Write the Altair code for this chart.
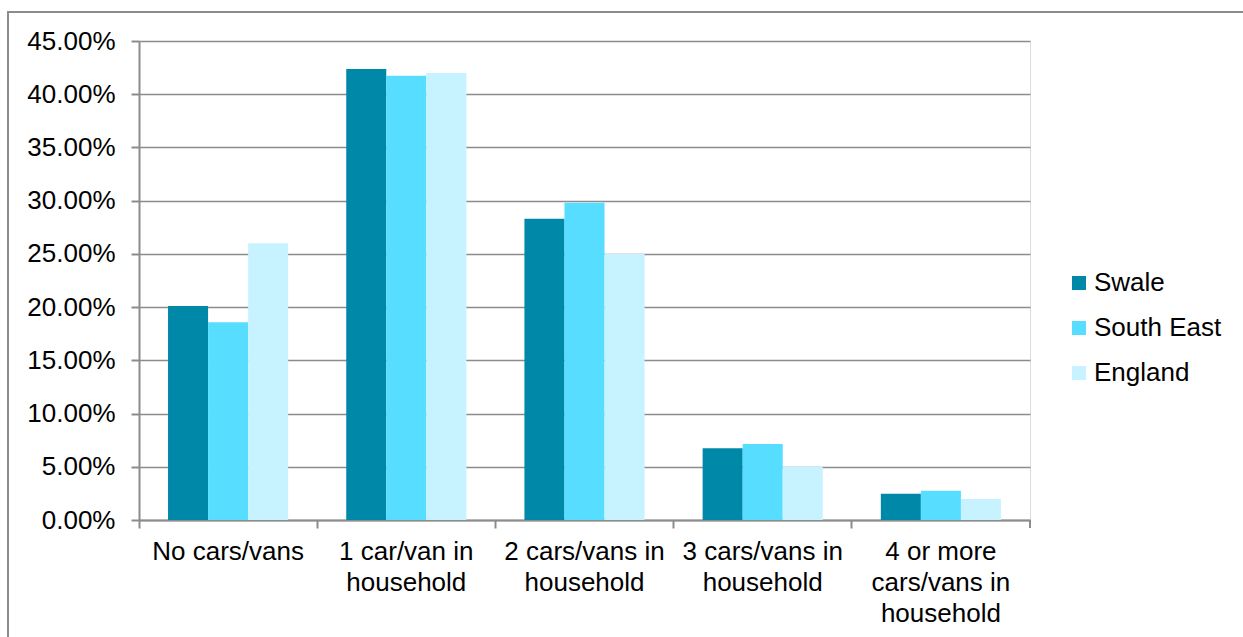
import altair as alt
import pandas as pd

# Categories (label lines) and series values
category_lines = [
    ["No cars/vans"],
    ["1 car/van in", "household"],
    ["2 cars/vans in", "household"],
    ["3 cars/vans in", "household"],
    ["4 or more", "cars/vans in", "household"],
]
categories = ["\n".join(c) for c in category_lines]
series = ["Swale", "South East", "England"]
colors = ["#0088A8", "#57DDFF", "#C6F3FF"]

swale = [0.201, 0.4237, 0.283, 0.0673, 0.0247]
south_east = [0.1857, 0.4174, 0.298, 0.0714, 0.0275]
england = [0.260, 0.420, 0.250, 0.050, 0.0197]

rows = []
for s, vals in zip(series, [swale, south_east, england]):
    for c, v in zip(categories, vals):
        rows.append({"category": c, "series": s, "value": v})
df = pd.DataFrame(rows)

FONT = "Liberation Sans"
GRAY = "#8C8C8C"
W, H = 891, 479
FS = 26

bars = alt.Chart(df).mark_bar().encode(
    x=alt.X("category:N", sort=categories,
            scale=alt.Scale(paddingInner=0, paddingOuter=0),
            axis=alt.Axis(title=None, labelAngle=0, bandPosition=0,
                          labelExpr="split(datum.value, '\\n')",
                          labelFontSize=FS, labelFont=FONT, labelColor="#000000",
                          labelLineHeight=31, labelPadding=10, labelBaseline="top",
                          tickSize=8, tickColor=GRAY, tickWidth=2,
                          domainColor=GRAY, domainWidth=2, grid=False)),
    xOffset=alt.XOffset("series:N", sort=series,
                        scale=alt.Scale(paddingInner=0, paddingOuter=0.725)),
    y=alt.Y("value:Q", scale=alt.Scale(domain=[0, 0.45], nice=False),
            axis=alt.Axis(title=None, format=".2%", values=[i * 0.05 for i in range(10)],
                          labelFontSize=FS, labelFont=FONT, labelColor="#000000",
                          labelPadding=16, tickSize=8, tickColor=GRAY, tickWidth=2,
                          domainColor=GRAY, domainWidth=2,
                          grid=True, gridColor=GRAY, gridWidth=1.5)),
    color=alt.Color("series:N", sort=series,
                    scale=alt.Scale(domain=series, range=colors),
                    legend=alt.Legend(title=None, orient="none", legendX=927, legendY=229,
                                      symbolType="square", symbolSize=196,
                                      symbolStrokeWidth=0, labelFontSize=FS,
                                      labelFont=FONT, labelColor="#000000",
                                      labelOffset=2, rowPadding=19, padding=0)),
)

one = pd.DataFrame({"a": [0]})
border = alt.Chart(one).mark_rect(fill=None, stroke=GRAY, strokeWidth=2).encode(
    x=alt.value(-131), x2=alt.value(1300), y=alt.value(-29), y2=alt.value(800)
)
end_tick = alt.Chart(one).mark_rule(color=GRAY, strokeWidth=2).encode(
    x=alt.value(W), y=alt.value(H), y2=alt.value(H + 8)
)

chart = alt.layer(border, bars, end_tick).properties(
    width=W, height=H,
    autosize=alt.AutoSizeParams(type="none"),
    padding={"left": 139, "top": 41, "right": 213, "bottom": 117},
).configure_view(stroke=None).configure(background="white")

chart.save("out.html", embed_options={"renderer": "svg", "actions": False})
